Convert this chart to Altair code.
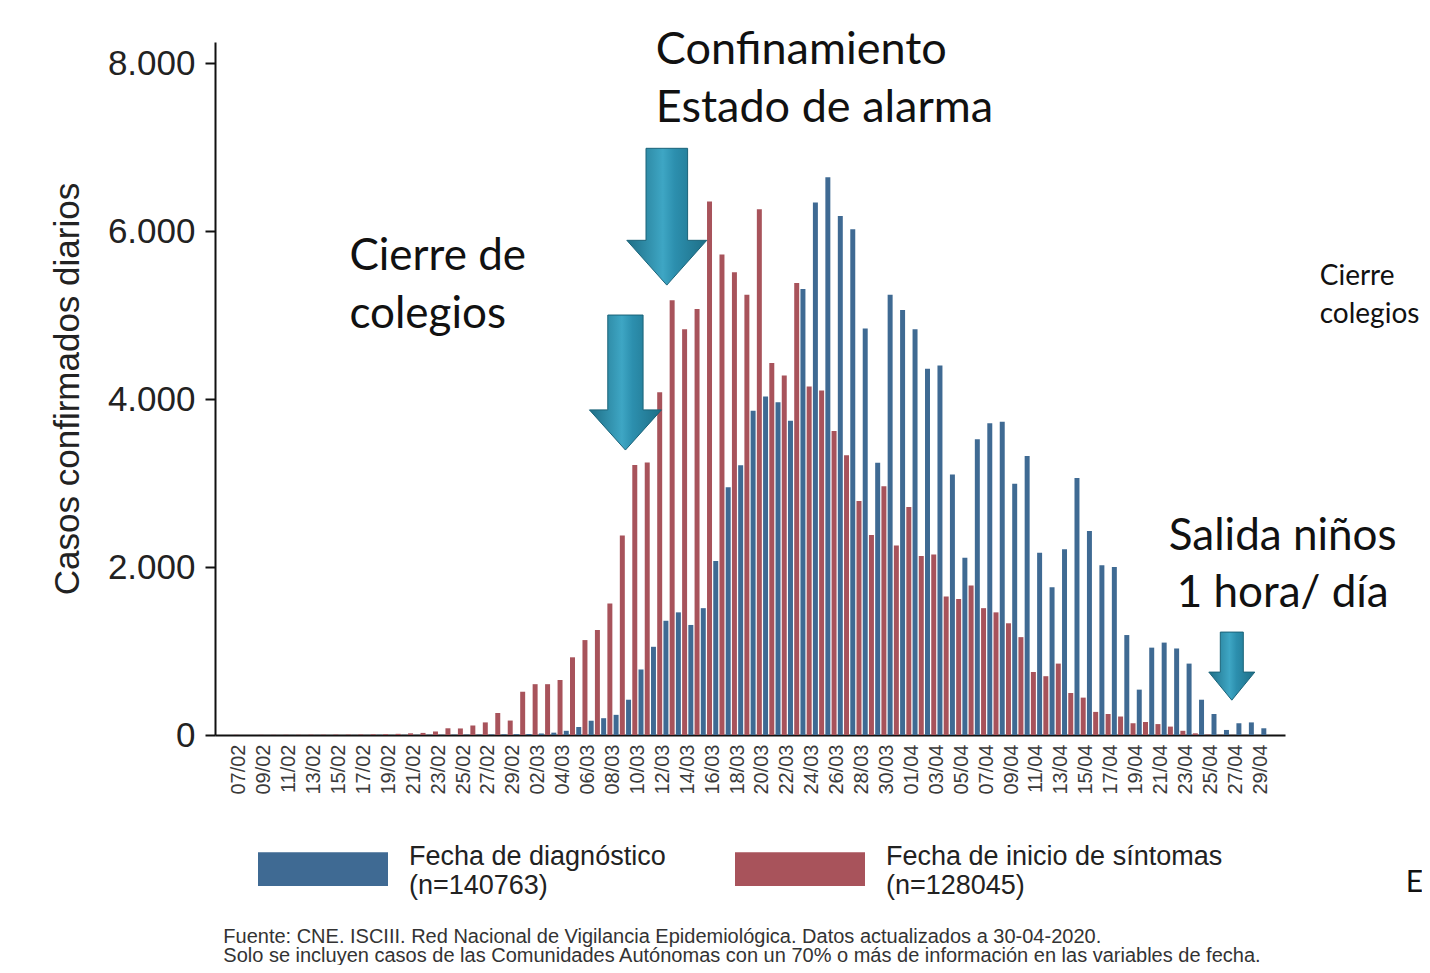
import altair as alt
import pandas as pd

# ---------------- data ----------------
day_labels = [d.strftime("%d/%m") for d in pd.date_range("2020-02-07", "2020-04-29", freq="D")]

# Fecha de diagnóstico (blue)
diag_feb = [0, 0, 0, 0, 1, 0, 1, 0, 1, 1, 1, 2, 1, 2, 2, 3, 3, 4, 5, 5, 6, 8, 10]
diag_mar = [12, 18, 28, 50, 95, 170, 200, 240, 420, 780, 1050, 1360, 1460, 1310, 1510,
            2070, 2950, 3210, 3860, 4030, 3960, 3740, 5310, 6340, 6640, 6180, 6020, 4840,
            3240, 5240, 5060]
diag_abr = [4830, 4360, 4400, 3100, 2110, 3520, 3710, 3730, 2990, 3320, 2170, 1760, 2210,
            3060, 2430, 2020, 2000, 1190, 540, 1040, 1100, 1030, 850, 420, 250, 60, 140,
            150, 80]

# Fecha de inicio de síntomas (red)
sint_feb = [2, 1, 2, 2, 3, 3, 4, 4, 5, 5, 6, 8, 10, 14, 20, 25, 42, 80, 78, 112, 150, 262, 172]
sint_mar = [515, 605, 605, 655, 925, 1130, 1250, 1565, 2375, 3215, 3245, 4080, 5175, 4830,
            5070, 6350, 5720, 5510, 5240, 6260, 4430, 4280, 5380, 4150, 4100, 3620, 3330,
            2785, 2380, 2960, 2255]
sint_abr = [2715, 2130, 2150, 1650, 1620, 1780, 1510, 1460, 1330, 1165, 750, 700, 850, 500,
            445, 275, 250, 220, 140, 155, 130, 100, 50, 20, 5, 2, 1, 1, 0]

serie_diag = "Fecha de diagnóstico"
serie_sint = "Fecha de inicio de síntomas"
n_diag = "(n=140763)"
n_sint = "(n=128045)"

y_ticks = [0, 2000, 4000, 6000, 8000]
y_title = "Casos confirmados diarios"

nota = [
    "Fuente: CNE. ISCIII. Red Nacional de Vigilancia Epidemiológica. Datos actualizados a 30-04-2020.",
    "Solo se incluyen casos de las Comunidades Autónomas con un 70% o más de información en las variables de fecha.",
]

diag = diag_feb + diag_mar + diag_abr
sint = sint_feb + sint_mar + sint_abr

df = pd.DataFrame({
    "fecha": day_labels * 2,
    "serie": [serie_diag] * len(day_labels) + [serie_sint] * len(day_labels),
    "casos": diag + sint,
})

# ---------------- styling ----------------
BLUE = "#3F6A93"
RED = "#A8535B"
AX_FONT = "Liberation Sans"
ANN_FONT = "Lato"
Y_DOMAIN = [0, 8250]

# one empty slot at each end of the date axis, as in the original
x_domain = [" "] + day_labels + ["  "]
x_scale = alt.Scale(domain=x_domain, paddingInner=0.1, paddingOuter=0.5)
y_scale = alt.Scale(domain=Y_DOMAIN, nice=False, zero=True)


def X(field):
    return alt.X(f"{field}:N", sort=x_domain, scale=x_scale, title=None)


def Y(field):
    return alt.Y(f"{field}:Q", scale=y_scale, title=y_title)


bars = alt.Chart(df).mark_bar().encode(
    x=alt.X("fecha:N", sort=x_domain, scale=x_scale, title=None,
            axis=alt.Axis(values=day_labels[::2], labelAngle=-90, ticks=False,
                          labelFontSize=20, labelPadding=9, labelColor="#3a3a3a",
                          labelFont=AX_FONT, domainColor="#111", domainWidth=2, grid=False)),
    xOffset=alt.XOffset("serie:N", scale=alt.Scale(domain=[serie_sint, serie_diag], paddingInner=0.2)),
    y=alt.Y("casos:Q", scale=y_scale, title=y_title,
            axis=alt.Axis(values=y_ticks, grid=False,
                          labelExpr="replace(format(datum.value, ','), ',', '.')",
                          titleFontSize=35, titleFont=AX_FONT, titleFontWeight="normal",
                          titleColor="#222", titlePadding=22, labelFontSize=35,
                          labelFont=AX_FONT, labelColor="#222", labelPadding=10,
                          tickSize=10, tickWidth=2, tickColor="#111", domainColor="#111",
                          domainWidth=2)),
    color=alt.Color("serie:N", scale=alt.Scale(domain=[serie_diag, serie_sint], range=[BLUE, RED]),
                    legend=alt.Legend(
                        orient="none", legendX=43, legendY=750, direction="horizontal",
                        title=None, symbolType="M-1,-0.075H1V0.445H-1Z", symbolSize=16900,
                        symbolStrokeWidth=0, symbolOpacity=1, labelFont=AX_FONT,
                        labelFontSize=27, labelColor="#222", labelOffset=21, labelLimit=600,
                        columnPadding=69, labelBaseline="middle",
                        labelExpr=(f"datum.label == '{serie_diag}' ? ['{serie_diag}', '{n_diag}'] : "
                                   f"['{serie_sint}', '{n_sint}']"))),
)

# ---------------- arrows ----------------
arrow_grad = alt.LinearGradient(
    gradient="linear", x1=0, x2=1, y1=0, y2=0,
    stops=[alt.GradientStop(color="#1E6E86", offset=0),
           alt.GradientStop(color="#3EA6C4", offset=0.45),
           alt.GradientStop(color="#2C8FAE", offset=0.6),
           alt.GradientStop(color="#1E6E86", offset=1)])

arrow_dates = ["09/03", "12/03", "27/04"]
arrow_vals = [4196, 6170, 820]
arrow_shapes = [
    "M-0.49,-1.875L0.49,-1.875L0.49,0.76L1,0.76L0,1.875L-1,0.76L-0.49,0.76Z",
    "M-0.52,-1.71L0.52,-1.71L0.52,0.59L1,0.59L0,1.71L-1,0.59L-0.52,0.59Z",
    "M-0.5,-1.48L0.5,-1.48L0.5,0.26L1,0.26L0,1.48L-1,0.26L-0.5,0.26Z",
]
arrow_sizes = [5184, 6400, 2116]
arrow_dx = [0, 4, -4]

arrow_layers = []
for fecha, val, shp, sz, dx in zip(arrow_dates, arrow_vals, arrow_shapes, arrow_sizes, arrow_dx):
    a = alt.Chart(pd.DataFrame({"fecha": [fecha], "valor": [val]})).mark_point(
        shape=shp, size=sz, filled=True, fill=arrow_grad, stroke="#1A6379",
        strokeWidth=1, opacity=1, xOffset=dx,
    ).encode(x=X("fecha"), y=Y("valor"))
    arrow_layers.append(a)


# ---------------- annotations ----------------
def texts(labels, fechas, vals, size, dx, align="left", font=ANN_FONT, color="#111"):
    d = pd.DataFrame({"t": labels, "fecha": fechas, "valor": vals})
    return alt.Chart(d).mark_text(
        font=font, fontSize=size, align=align, baseline="middle", dx=dx, color=color
    ).encode(x=X("fecha"), y=Y("valor"), text="t:N")


ann_conf = texts(["Confinamiento", "Estado de alarma"], ["12/03", "12/03"], [8155, 7464], 45, -7)
ann_cierre = texts(["Cierre de", "colegios"], ["16/02", "16/02"], [5690, 5000], 44, -2)
ann_salida = texts(["Salida niños", "1 hora/ día"], ["29/04", "29/04"], [2357, 1679], 44, 22, align="center")
ann_side = texts(["Cierre", "colegios"], ["29/04", "29/04"], [5452, 5000], 28, 59)
ann_e = texts(["E"], ["29/04"], [-1762], 30, 145)
ann_nota = texts(nota, ["07/02", "07/02"], [-2405, -2635], 20, -16, font=AX_FONT, color="#333")

chart = alt.layer(
    bars, *arrow_layers, ann_conf, ann_cierre, ann_salida, ann_side, ann_e, ann_nota
).properties(
    width=1070, height=693,
    padding={"left": 207, "top": 34, "right": 137, "bottom": 230},
    autosize=alt.AutoSizeParams(type="none"),
    background="white",
).configure_view(stroke=None)

chart.save("out.html", embed_options={"renderer": "svg", "actions": False})
